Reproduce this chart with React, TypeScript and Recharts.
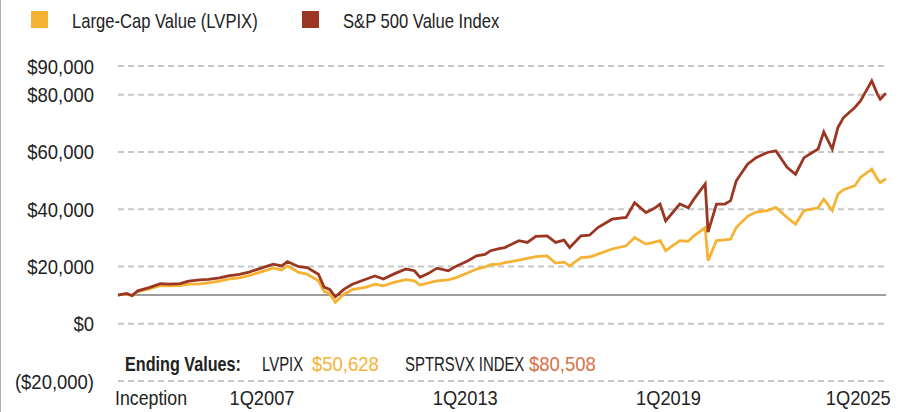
import { LineChart, Line, XAxis, YAxis, CartesianGrid, ReferenceLine } from 'recharts';

// Arial-metric face squeezed to look like the narrow face of the original
const FONT = "'Liberation Sans', Arial, sans-serif";
const YELLOW = '#f6b233';
const RED = '#9a3622';

// month of each reading, growth of $10,000 since inception
const months = [
  '2002-10', '2003-01', '2003-03', '2003-05', '2003-09', '2004-01', '2004-04', '2004-08', '2004-11',
  '2005-03', '2005-06', '2005-10', '2006-01', '2006-05', '2006-08', '2007-01', '2007-05', '2007-08',
  '2007-10', '2008-02', '2008-05', '2008-09', '2008-11', '2009-01', '2009-03', '2009-06', '2009-09',
  '2010-02', '2010-05', '2010-08', '2010-12', '2011-04', '2011-07', '2011-09', '2011-12', '2012-03',
  '2012-07', '2012-10', '2013-02', '2013-05', '2013-08', '2013-10', '2014-01', '2014-03', '2014-08',
  '2014-11', '2015-02', '2015-06', '2015-09', '2015-12', '2016-02', '2016-06', '2016-09', '2016-12',
  '2017-05', '2017-10', '2018-01', '2018-05', '2018-08', '2018-10', '2018-12', '2019-05', '2019-08',
  '2019-10', '2020-02', '2020-03', '2020-06', '2020-09', '2020-11', '2021-01', '2021-05', '2021-08',
  '2021-12', '2022-03', '2022-07', '2022-10', '2023-01', '2023-06', '2023-08', '2023-11', '2024-01',
  '2024-03', '2024-07', '2024-09', '2025-01', '2025-03', '2025-04', '2025-06',
];

const lvpix = [
  10000, 10400, 9700, 11200, 12200, 13300, 13200, 13300, 13800,
  13900, 14300, 14900, 15600, 16000, 16700, 18200, 19400, 18800,
  20200, 17900, 17300, 15000, 11300, 10500, 7500, 10300, 11900,
  12800, 13800, 13200, 14500, 15400, 15000, 13500, 14300, 15000,
  15300, 16200, 17800, 19100, 19800, 20600, 20800, 21300, 22200,
  22800, 23400, 23700, 21200, 21500, 20200, 23100, 23300, 24300,
  26100, 27200, 30100, 27800, 28500, 29000, 25500, 29000, 28800,
  30700, 33600, 22000, 29000, 29300, 29500, 33600, 37500, 39000,
  39500, 40600, 37100, 34800, 39500, 40500, 43500, 39500, 45300,
  46800, 48200, 51100, 54000, 50500, 49300, 50628,
];

const spValue = [
  10000, 10600, 9800, 11500, 12600, 14000, 13800, 14000, 14900,
  15300, 15500, 16000, 16700, 17200, 17900, 19500, 20800, 20200,
  21700, 19900, 19600, 17300, 12800, 12000, 9400, 12000, 13800,
  15600, 16700, 15600, 17500, 19100, 18500, 16200, 17600, 19400,
  18500, 20200, 22000, 23700, 24200, 25500, 26200, 26600, 29000,
  28400, 30500, 30700, 28400, 29200, 26600, 30700, 30900, 33600,
  36500, 37100, 42300, 38800, 40300, 41800, 35900, 41800, 40500,
  43500, 48800, 32000, 41800, 41800, 43000, 49900, 55700, 58000,
  59800, 60400, 54600, 52200, 58000, 61000, 67000, 61000, 68500,
  72000, 75500, 77800, 84800, 80200, 78400, 80508,
];

const yTicks = [-20000, 0, 20000, 40000, 60000, 80000, 90000];
const xTicks = [2002.75, 2007, 2013, 2019, 2025];
const xTickLabels = ['Inception', '1Q2007', '1Q2013', '1Q2019', '1Q2025'];

const toYear = (m: string) => {
  const [y, mo] = m.split('-').map(Number);
  return y + (mo - 1) / 12;
};

const data = months.map((m, i) => ({ t: toYear(m), lvpix: lvpix[i], sp: spValue[i] }));

const fmtMoney = (v: number) => {
  const s = '$' + Math.abs(v).toLocaleString('en-US');
  return v < 0 ? `(${s})` : s;
};

function YTick(props: any) {
  const { x, y, payload } = props;
  return (
    <g transform={`translate(${x},${y + 7.5}) scale(0.88,1)`}>
      <text x={0} y={0} textAnchor="end" fontSize={21} fill="#222" fontFamily={FONT}>
        {fmtMoney(payload.value)}
      </text>
    </g>
  );
}

function XTick(props: any) {
  const { x, y, payload, index } = props;
  const first = index === 0;
  const last = index === xTicks.length - 1;
  const anchor = first ? 'start' : last ? 'end' : 'middle';
  const dx = first ? -3 : last ? 19 : 0;
  return (
    <g transform={`translate(${x + dx},${y + 22}) scale(${first ? 0.845 : 0.87},1)`}>
      <text x={0} y={0} textAnchor={anchor} fontSize={21} fill="#222" fontFamily={FONT}>
        {xTickLabels[xTicks.indexOf(payload.value)]}
      </text>
    </g>
  );
}

function Squeezed({ left, top, sx, color, bold, children }: any) {
  return (
    <div
      style={{
        position: 'absolute',
        left,
        top,
        fontSize: 21,
        lineHeight: '21px',
        color: color || '#222',
        fontWeight: bold ? 'bold' : 'normal',
        whiteSpace: 'nowrap',
        transform: `scaleX(${sx})`,
        transformOrigin: 'left top',
      }}
    >
      {children}
    </div>
  );
}

export default function App() {
  return (
    <div style={{ position: 'absolute', left: 0, top: 0, width: 907, height: 412, background: '#fff', borderLeft: '1px solid #b0b0b0', boxSizing: 'border-box', fontFamily: FONT }}>
      <div style={{ position: 'absolute', left: 30, top: 11, width: 17, height: 17, background: YELLOW }} />
      <Squeezed left={71} top={10} sx={0.79}>Large-Cap Value (LVPIX)</Squeezed>
      <div style={{ position: 'absolute', left: 301, top: 11, width: 17, height: 17, background: RED }} />
      <Squeezed left={342} top={10} sx={0.79}>S&amp;P 500 Value Index</Squeezed>

      <Squeezed left={124} top={353} sx={0.77} bold>Ending Values:</Squeezed>
      <Squeezed left={261} top={353} sx={0.71}>LVPIX</Squeezed>
      <Squeezed left={311} top={353} sx={0.88} color={YELLOW}>$50,628</Squeezed>
      <Squeezed left={404} top={353} sx={0.71}>SPTRSVX INDEX</Squeezed>
      <Squeezed left={528} top={353} sx={0.88} color="#d9703f">$80,508</Squeezed>

      <LineChart width={906} height={412} data={data} margin={{ top: 66, right: 21, bottom: 0, left: 0 }}>
        <CartesianGrid vertical={false} stroke="#c6c6c6" strokeWidth={2} strokeDasharray="6 4" />
        <XAxis
          dataKey="t"
          type="number"
          domain={[2002.75, 2025.42]}
          ticks={xTicks}
          tick={<XTick />}
          axisLine={false}
          tickLine={false}
          tickSize={0}
          height={31}
          interval={0}
        />
        <YAxis
          domain={[-20000, 90000]}
          ticks={yTicks}
          tick={<YTick />}
          axisLine={false}
          tickLine={false}
          tickSize={0}
          tickMargin={24}
          width={117}
          interval={0}
        />
        <ReferenceLine y={10000} stroke="#9c9c9c" strokeWidth={2} />
        <Line type="linear" dataKey="lvpix" stroke={YELLOW} strokeWidth={2.8} dot={false} isAnimationActive={false} />
        <Line type="linear" dataKey="sp" stroke={RED} strokeWidth={2.8} dot={false} isAnimationActive={false} />
      </LineChart>
    </div>
  );
}
